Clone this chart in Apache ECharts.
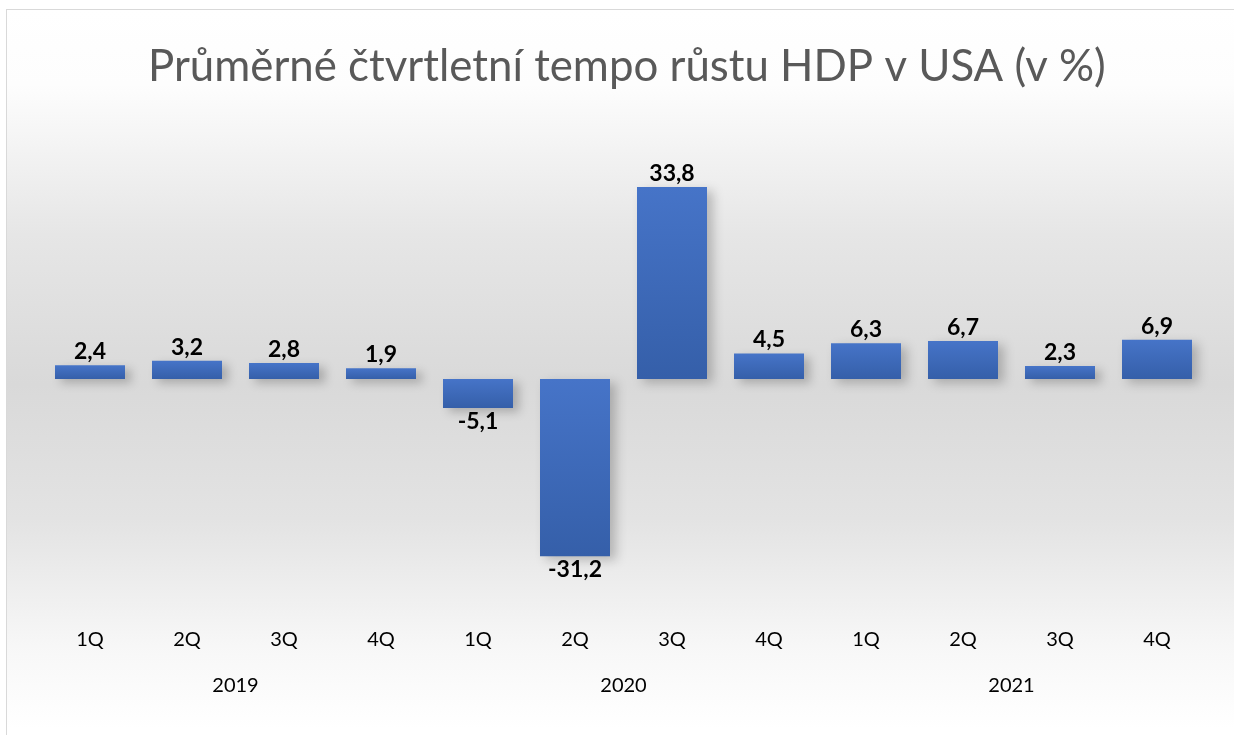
<!DOCTYPE html>
<html>
<head>
<meta charset="utf-8">
<script src="https://cdn.jsdelivr.net/npm/echarts@6/dist/echarts.min.js"></script>
<style>
html,body{margin:0;padding:0;background:#fff;width:1234px;height:735px;overflow:hidden;}
#frame{position:absolute;left:6px;top:9px;width:1250px;height:750px;border:1.5px solid #d9d9d9;box-sizing:border-box;
background:linear-gradient(to bottom,#ffffff 0%,#fdfdfd 10%,#e6e6e6 30%,#d9d9d9 50%,#e3e3e3 68%,#f7f7f7 85%,#ffffff 96%);}
#chart{position:absolute;left:0;top:0;width:1234px;height:735px;}
</style>
</head>
<body>
<div id="frame"></div>
<div id="chart"></div>
<script>
const titleText = 'Průměrné čtvrtletní tempo růstu HDP v USA (v %)';
const quarters = ['1Q','2Q','3Q','4Q','1Q','2Q','3Q','4Q','1Q','2Q','3Q','4Q'];
const years = ['2019','2020','2021'];
const values = [2.4, 3.2, 2.8, 1.9, -5.1, -31.2, 33.8, 4.5, 6.3, 6.7, 2.3, 6.9];

const chart = echarts.init(document.getElementById('chart'), null, {renderer:'canvas'});
const fontFam = 'Lato, "Open Sans", sans-serif';
const option = {
  backgroundColor: 'transparent',
  animation: false,
  title: {
    text: titleText, left: 143, top: 40,
    textStyle: {fontFamily: fontFam, fontSize: 43.8, fontWeight: 'normal', color: '#595959'}
  },
  grid: {left: 41.5, right: 28.5, top: 151.8, bottom: 128.8, containLabel: false},
  xAxis: [
    {
      type: 'category', data: quarters, position: 'bottom',
      axisLine: {show: false}, axisTick: {show: false},
      axisLabel: {margin: 23, fontFamily: fontFam, fontSize: 20, color: '#000'}
    },
    {
      type: 'category', data: years, position: 'bottom', offset: 46,
      axisLine: {show: false}, axisTick: {show: false},
      axisLabel: {margin: 23, fontFamily: fontFam, fontSize: 20, color: '#000'}
    }
  ],
  yAxis: {
    type: 'value', min: -40, max: 40,
    axisLine: {show: false}, axisTick: {show: false}, axisLabel: {show: false}, splitLine: {show: false}
  },
  series: [{
    type: 'bar', xAxisIndex: 0, barWidth: 70,
    data: values.map(v => ({
      value: v,
      label: {position: v < 0 ? 'bottom' : 'top'}
    })),
    itemStyle: {
      color: new echarts.graphic.LinearGradient(0, 0, 0, 1, [
        {offset: 0, color: '#4674c8'}, {offset: 1, color: '#355fa9'}
      ]),
      shadowColor: 'rgba(0,0,0,0.22)', shadowBlur: 10, shadowOffsetX: 6, shadowOffsetY: 4
    },
    label: {
      show: true, distance: 2,
      fontFamily: fontFam, fontSize: 23, fontWeight: 'bold', color: '#000',
      formatter: p => p.value.toFixed(1).replace('.', ',')
    }
  }]
};
chart.setOption(option);
</script>
</body>
</html>
